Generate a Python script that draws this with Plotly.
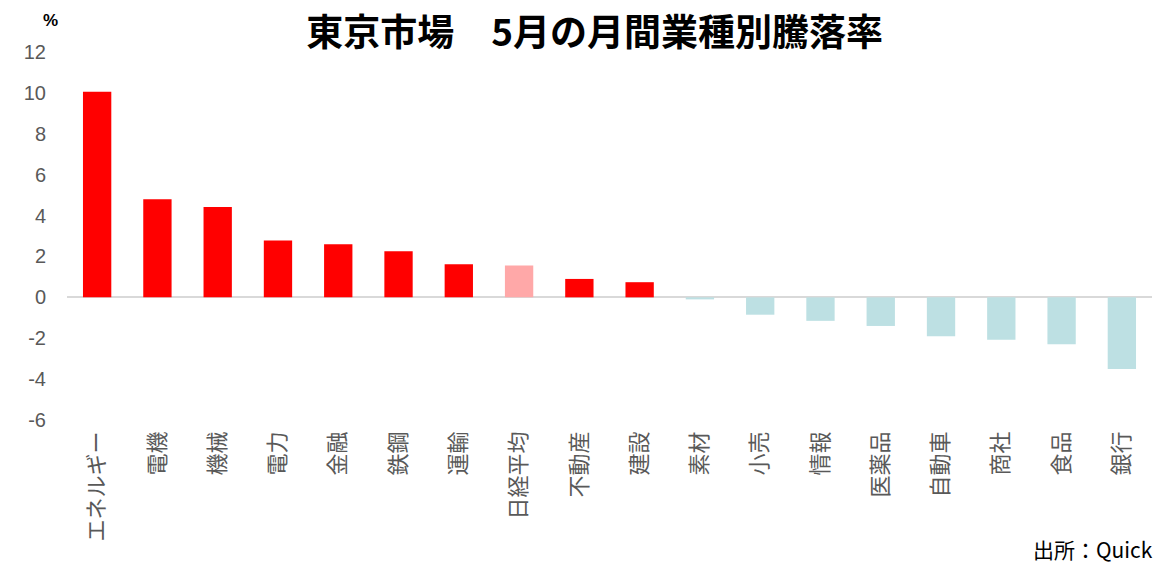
import plotly.graph_objects as go

categories = ["エネルギー", "電機", "機械", "電力", "金融", "鉄鋼", "運輸", "日経平均", "不動産",
              "建設", "素材", "小売", "情報", "医薬品", "自動車", "商社", "食品", "銀行"]
values = [10.05, 4.8, 4.42, 2.78, 2.6, 2.25, 1.62, 1.56, 0.9,
          0.74, -0.1, -0.85, -1.15, -1.4, -1.9, -2.08, -2.3, -3.5]
y_ticks = [-6, -4, -2, 0, 2, 4, 6, 8, 10, 12]
y_tick_text = ["-6", "-4", "-2", "0", "2", "4", "6", "8", "10", "12"]

colors = []
for c, v in zip(categories, values):
    if c == "日経平均":
        colors.append("#FFA8A8")
    elif v >= 0:
        colors.append("#FF0000")
    else:
        colors.append("#BDE0E3")

fig = go.Figure(go.Bar(
    x=categories, y=values,
    marker=dict(color=colors, line=dict(width=0)),
))

fig.update_layout(
    width=1159, height=567,
    margin=dict(l=67, r=7, t=52, b=147),
    paper_bgcolor="white", plot_bgcolor="white",
    bargap=0.53,
    showlegend=False,
    font=dict(family="Noto Sans CJK JP", color="#595959"),
    title=dict(text="<b>東京市場　5月の月間業種別騰落率</b>", x=0.513, xanchor="center",
               y=0.942, yanchor="middle",
               font=dict(family="Noto Sans CJK JP", size=37, color="black")),
    xaxis=dict(tickangle=-90, tickfont=dict(size=22, color="#595959", family="Noto Sans CJK JP"),
               showline=False, ticks="", showgrid=False, ticklabelstandoff=6),
    yaxis=dict(range=[-6, 12], tickvals=y_ticks, ticktext=y_tick_text, showgrid=False, zeroline=True,
               zerolinecolor="#D9D9D9", zerolinewidth=2, showline=False, ticks="",
               tickfont=dict(size=20, color="#595959", family="Liberation Sans"),
               ticklabelstandoff=20),
    annotations=[
        dict(text="<b>%</b>", x=(50 - 67) / (1159 - 67 - 7), y=1 + (52 - 20) / 368,
             xref="paper", yref="paper", xanchor="center", yanchor="middle", showarrow=False,
             font=dict(size=17, color="black", family="Liberation Sans")),
        dict(text="出所：Quick", x=1.003, y=(420 - 549) / 368, xref="paper", yref="paper",
             xanchor="right", yanchor="middle", showarrow=False,
             font=dict(size=21, color="black", family="Noto Sans CJK JP")),
    ],
)

fig.write_html("out.html")
